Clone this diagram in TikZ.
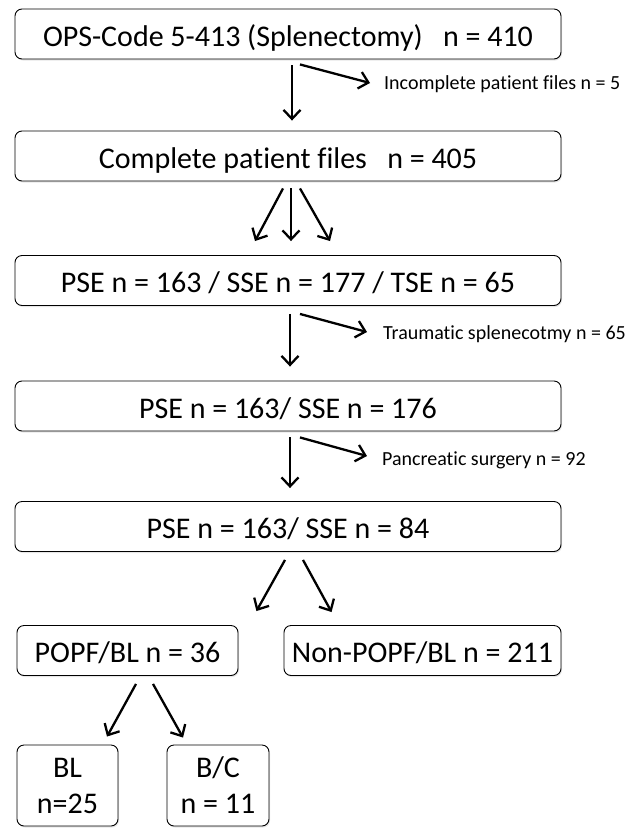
\documentclass[tikz,border=0pt]{standalone}
\usepackage{fontspec}
\setmainfont[Ligatures=NoCommon]{Carlito}
\usetikzlibrary{arrows.meta,shadows}

\begin{document}
\begin{tikzpicture}[x=1pt,y=-1pt,
	frame/.style={draw, rounded corners=7pt, fill=white, line width=0.9pt, inner sep=0pt,
		drop shadow={shadow xshift=1pt, shadow yshift=-1.5pt, opacity=0.2},
		font=\fontsize{30}{36}\selectfont},
	box/.style={frame, text height=26pt, text depth=2pt, minimum height=50pt},
	side/.style={anchor=west, inner sep=0pt, font=\fontsize{20}{24}\selectfont},
	arr/.style={-{Straight Barb[length=9pt,width=17pt]}, line width=2.3pt}]
	\useasboundingbox (0,0) rectangle (639,828);
	
	\node[box, minimum width=546pt] (ops) at (288,34) {OPS-Code 5-413 (Splenectomy)\ \ \ n = 410};
	\node[box, minimum width=546pt] (compl) at (288,156) {Complete patient files\ \ \ n = 405};
	\node[box, minimum width=546pt] (three) at (288,280.5) {PSE n = 163 / SSE n = 177 / TSE n = 65};
	\node[box, minimum width=546pt] (two) at (288,406) {PSE n = 163/ SSE n = 176};
	\node[box, minimum width=546pt] (final) at (288,526.5) {PSE n = 163/ SSE n = 84};
	
	\node[box, minimum width=221pt] (popf) at (127.5,650.5) {POPF/BL n = 36};
	\node[box, minimum width=277pt] (nonpopf) at (422.5,650.5) {Non-POPF/BL n = 211};
	
	\node[frame, align=center, minimum width=101pt, minimum height=81pt] (bl) at (67.5,785.5) {BL\\n=25};
	\node[frame, align=center, minimum width=102pt, minimum height=81pt] (bc) at (218,785.5) {B/C\\n = 11};
	
	\node[side] (incomplete) at (384,84) {Incomplete patient files n = 5};
	\node[side] (trauma) at (383,334) {Traumatic splenecotmy n = 65};
	\node[side] (pancreas) at (382,460) {Pancreatic surgery n = 92};
	
	% exclusions
	\draw[arr] ([shift={(4,6)}]ops.south) -- ([shift={(4,-10)}]compl.north);
	\draw[arr] ([shift={(12,5)}]ops.south) -- ([shift={(-14,-1)}]incomplete.west);
	
	\foreach \a/\b in {-5/-33, 3/3, 12/42}
		\draw[arr] ([shift={(\a,7)}]compl.south) -- ([shift={(\b,-14)}]three.north);
	
	\draw[arr] ([shift={(2,8)}]three.south) -- ([shift={(2,-14)}]two.north);
	\draw[arr] ([shift={(12,8)}]three.south) -- ([shift={(-16,-2)}]trauma.west);
	
	\draw[arr] ([shift={(2,6)}]two.south) -- ([shift={(2,-13)}]final.north);
	\draw[arr] ([shift={(12,6)}]two.south) -- ([shift={(-15,-4)}]pancreas.west);
	
	% outcome
	\draw[arr] ([shift={(-3,8)}]final.south) -- ([shift={(18,-14)}]popf.north east);
	\draw[arr] ([shift={(15,8)}]final.south) -- ([shift={(48,-13)}]nonpopf.north west);
	
	\draw[arr] ([shift={(8.5,8)}]popf.south) -- ([shift={(39.5,-8)}]bl.north);
	\draw[arr] ([shift={(25.5,8)}]popf.south) -- ([shift={(-35,-7)}]bc.north);
\end{tikzpicture}
\end{document}
